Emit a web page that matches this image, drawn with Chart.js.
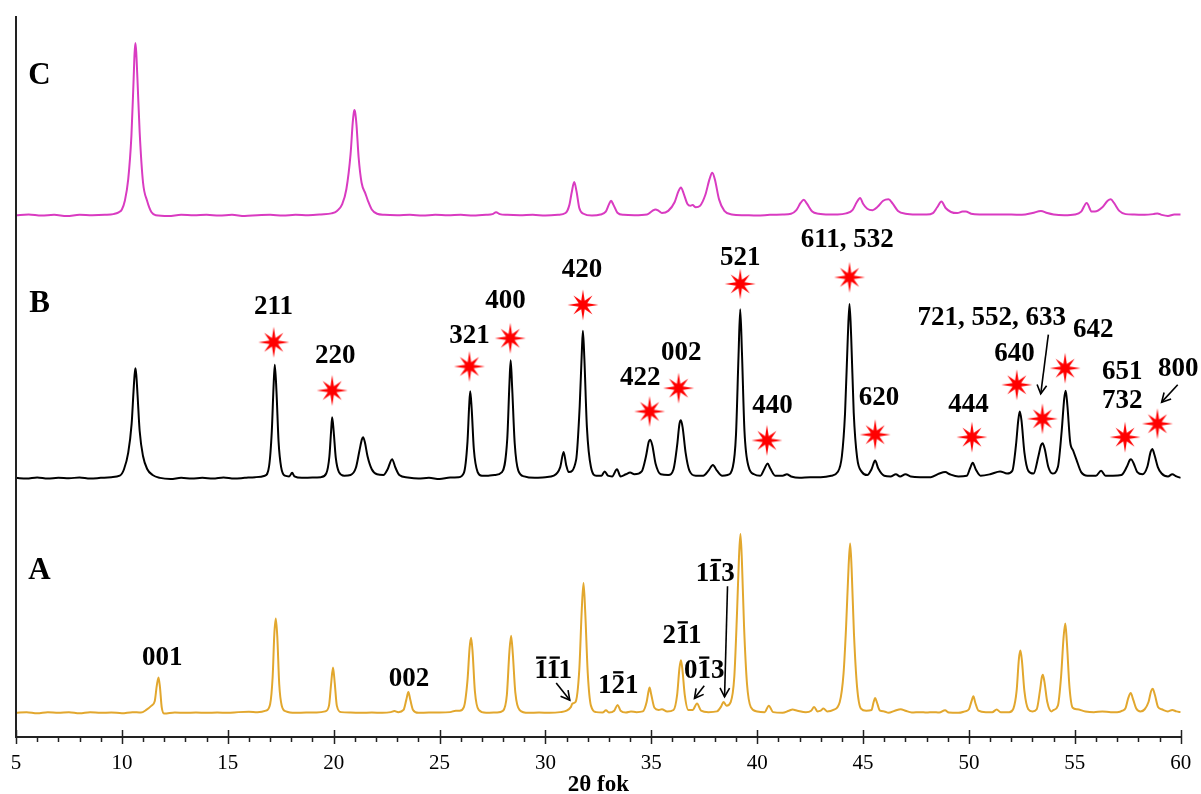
<!DOCTYPE html>
<html><head><meta charset="utf-8">
<script src="https://cdn.jsdelivr.net/npm/chart.js@4.4.1/dist/chart.umd.min.js"></script>
<style>html,body{margin:0;padding:0;background:#fff;}canvas{display:block;}</style>
</head><body>
<canvas id="c" width="1201" height="794"></canvas>
<script>
// x axis: 2-theta (degrees)
const xMin = 5, xMax = 60;
const xTickLabels = [5,10,15,20,25,30,35,40,45,50,55,60];

// vertical offsets of the three stacked patterns (intensity units)
const offsetA = 3.35, offsetB = 35.94, offsetC = 72.37;

// Pattern C (magenta) [2theta, intensity above its baseline]
const patternC = [
[5.0,0.0],[5.6,0.1],[6.2,-0.05],[6.8,0.05],[7.4,-0.1],[8.0,0.05],[8.6,0.0],[9.2,0.05],[9.6,0.15],[9.85,0.4],
[10.0,0.8],[10.14,2.0],[10.3,5.0],[10.45,11.0],[10.55,18.5],[10.6,22.5],[10.64,23.9],[10.68,22.5],[10.74,18.5],[10.84,11.5],[11.0,4.5],[11.19,2.0],
[11.4,0.4],[11.6,0.0],[12.2,-0.1],[12.8,0.05],[13.4,0.0],[14.0,0.05],[14.6,-0.05],[15.2,0.05],[15.8,-0.1],[16.4,0.0],
[17.0,0.05],[17.6,-0.05],[18.2,0.05],[18.8,0.0],[19.4,0.1],[19.9,0.25],[20.16,0.6],[20.4,1.5],[20.6,3.6],[20.8,8.5],
[20.9,12.8],[20.95,14.2],[20.98,14.6],[21.02,14.2],[21.08,12.5],[21.18,8.0],[21.32,4.5],[21.5,3.0],[21.62,2.0],[21.8,0.8],[22.05,0.2],[22.4,0.05],
[23.0,0.0],[23.6,0.05],[24.2,-0.05],[24.8,0.05],[25.4,0.0],[26.0,0.05],[26.6,-0.05],[27.2,0.05],[27.5,0.15],[27.67,0.4],
[27.85,0.15],[28.2,0.05],[28.8,0.0],[29.4,0.05],[30.0,-0.05],[30.6,0.05],[30.95,0.3],[31.13,1.4],[31.25,3.3],[31.36,4.6],
[31.47,3.3],[31.6,1.0],[31.8,0.2],[32.2,-0.05],[32.6,0.1],[32.85,0.5],[33.0,1.5],[33.1,2.0],[33.22,1.4],[33.4,0.35],
[33.7,0.05],[34.2,0.0],[34.8,0.1],[35.05,0.6],[35.2,0.8],[35.35,0.6],[35.5,0.3],[35.8,0.6],[36.1,1.8],[36.28,3.3],
[36.4,3.85],[36.53,3.0],[36.7,1.6],[36.85,1.3],[36.95,1.4],[37.1,1.1],[37.3,1.3],[37.55,2.8],[37.75,5.0],[37.88,5.9],
[38.0,5.0],[38.2,2.2],[38.45,0.6],[38.8,0.1],[39.4,0.0],[40.0,-0.05],[40.6,0.05],[41.2,0.1],[41.6,0.2],[41.85,0.7],
[42.05,1.7],[42.2,2.15],[42.35,1.6],[42.6,0.5],[42.9,0.2],[43.4,0.1],[43.8,0.1],[44.2,0.25],[44.5,0.7],[44.7,1.8],
[44.86,2.4],[45.0,1.6],[45.2,0.9],[45.45,0.7],[45.7,1.2],[45.95,2.0],[46.2,2.2],[46.4,1.6],[46.65,0.6],[47.0,0.2],
[47.5,0.1],[48.0,0.1],[48.3,0.3],[48.5,1.1],[48.7,1.9],[48.9,1.0],[49.15,0.45],[49.45,0.3],[49.7,0.5],[49.85,0.5],
[50.1,0.2],[50.5,0.1],[51.0,0.1],[51.5,0.1],[52.0,0.1],[52.5,0.05],[53.0,0.3],[53.4,0.6],[53.7,0.3],[54.0,0.1],
[54.5,0.0],[55.0,0.1],[55.3,0.5],[55.56,1.7],[55.8,0.5],[55.95,0.5],[56.3,1.1],[56.55,2.0],[56.7,2.2],[56.85,1.7],
[57.1,0.6],[57.4,0.15],[57.8,0.1],[58.3,0.05],[58.7,0.15],[58.9,0.25],[59.1,0.05],[59.4,-0.1],[59.7,0.1],[60.0,0.1]
];

// Pattern B (black)
const patternB = [
[5.0,0.0],[5.5,-0.1],[6.0,0.05],[6.5,-0.1],[7.0,0.0],[7.5,-0.05],[8.0,0.05],[8.5,-0.1],[9.0,0.0],[9.5,0.1],
[9.9,0.3],[10.1,1.2],[10.3,3.5],[10.46,7.5],[10.55,12.0],[10.6,14.3],[10.64,15.2],[10.68,14.3],[10.74,11.5],[10.84,6.5],[11.0,3.0],[11.2,1.2],
[11.45,0.4],[11.8,0.0],[12.3,-0.15],[12.8,0.0],[13.3,-0.1],[13.8,0.0],[14.3,-0.1],[14.8,0.05],[15.3,-0.1],[15.8,0.0],
[16.3,0.1],[16.75,0.3],[16.95,1.6],[17.08,6.5],[17.16,12.5],[17.22,15.7],[17.3,12.0],[17.4,5.0],[17.52,1.5],[17.7,0.3],
[17.9,0.2],[18.04,0.7],[18.15,0.2],[18.5,0.0],[19.0,0.05],[19.4,0.1],[19.65,0.6],[19.8,3.0],[19.88,6.5],[19.93,8.4],
[20.0,6.5],[20.1,2.8],[20.25,0.8],[20.5,0.3],[20.8,0.4],[21.05,1.4],[21.22,3.8],[21.33,5.3],[21.39,5.65],[21.47,5.0],
[21.6,3.0],[21.8,1.2],[22.05,0.5],[22.35,0.4],[22.55,1.2],[22.76,2.6],[22.92,1.4],[23.1,0.4],[23.5,0.05],[24.0,-0.1],
[24.5,0.0],[25.0,-0.15],[25.5,0.05],[25.9,0.1],[26.15,0.7],[26.32,5.0],[26.4,10.0],[26.45,12.0],[26.52,9.5],[26.62,4.0],
[26.8,0.8],[27.0,0.3],[27.3,0.3],[27.6,0.4],[27.95,0.8],[28.2,5.5],[28.3,13.0],[28.36,16.3],[28.43,12.5],[28.55,4.8],
[28.72,1.0],[29.0,0.2],[29.5,0.0],[30.0,0.1],[30.4,0.3],[30.7,1.5],[30.86,3.6],[30.98,1.8],[31.1,0.8],[31.45,2.5],
[31.62,10.0],[31.72,17.5],[31.77,20.4],[31.84,16.5],[31.96,7.0],[32.15,1.5],[32.4,0.3],[32.65,0.3],[32.8,0.9],[32.95,0.3],
[33.15,0.2],[33.38,1.2],[33.55,0.2],[33.8,0.5],[34.0,0.75],[34.2,0.5],[34.55,0.9],[34.75,3.0],[34.88,5.0],[34.95,5.3],
[35.05,4.5],[35.2,2.0],[35.45,0.5],[35.8,0.4],[36.05,1.2],[36.22,4.5],[36.33,7.5],[36.4,8.0],[36.48,7.0],[36.62,3.5],
[36.8,1.0],[37.1,0.3],[37.45,0.3],[37.7,1.0],[37.91,1.8],[38.1,1.0],[38.35,0.3],[38.6,0.4],[38.85,1.5],[39.0,6.0],
[39.12,17.0],[39.2,23.4],[39.28,17.5],[39.4,6.5],[39.6,1.5],[39.85,0.5],[40.15,0.3],[40.35,1.3],[40.49,2.0],[40.62,1.3],
[40.85,0.3],[41.2,0.3],[41.4,0.5],[41.6,0.2],[42.0,0.0],[42.5,0.1],[43.0,0.1],[43.5,0.3],[43.8,0.8],[44.0,3.0],
[44.15,9.0],[44.28,19.5],[44.36,24.1],[44.44,19.5],[44.56,9.0],[44.72,2.8],[44.95,0.8],[45.2,0.4],[45.4,1.2],[45.57,2.4],
[45.72,1.3],[46.0,0.3],[46.3,0.2],[46.55,0.5],[46.75,0.2],[47.0,0.5],[47.25,0.2],[47.7,0.1],[48.2,0.1],[48.6,0.6],
[48.88,0.8],[49.1,0.5],[49.5,0.2],[49.9,0.3],[50.05,1.3],[50.18,2.1],[50.32,1.2],[50.55,0.3],[51.0,0.5],[51.47,0.9],
[51.8,0.6],[52.05,1.0],[52.22,4.5],[52.33,8.0],[52.4,9.2],[52.48,8.0],[52.62,3.5],[52.8,1.0],[53.05,0.6],[53.28,3.0],
[53.4,4.5],[53.48,4.8],[53.58,4.0],[53.75,1.5],[53.95,0.6],[54.2,1.5],[54.38,6.5],[54.5,11.0],[54.57,12.1],[54.65,10.0],
[54.78,5.0],[54.92,3.8],[55.08,2.5],[55.3,0.8],[55.6,0.3],[56.0,0.3],[56.24,1.0],[56.45,0.3],[56.8,0.3],[57.2,0.4],
[57.45,1.5],[57.6,2.5],[57.66,2.6],[57.78,2.0],[57.95,0.8],[58.2,0.5],[58.42,1.5],[58.58,3.6],[58.66,4.0],[58.76,3.2],
[58.92,1.5],[59.1,0.6],[59.4,0.2],[59.6,0.5],[59.8,0.2],[60.0,0.0]
];

// Pattern A (gold)
const patternA = [
[5.0,0.0],[5.5,0.1],[6.0,-0.05],[6.5,0.1],[7.0,0.0],[7.5,0.1],[8.0,-0.05],[8.5,0.1],[9.0,0.0],[9.5,0.05],
[10.0,-0.05],[10.5,0.1],[10.9,0.05],[11.15,0.4],[11.4,1.0],[11.55,1.6],[11.65,3.8],[11.73,4.9],[11.8,3.5],[11.88,0.8],
[12.0,-0.1],[12.5,0.05],[13.0,0.0],[13.5,0.05],[14.0,0.0],[14.5,0.05],[15.0,0.0],[15.5,0.1],[16.0,0.15],[16.4,0.1],
[16.8,0.3],[17.0,1.2],[17.12,5.0],[17.2,11.0],[17.27,13.1],[17.34,10.5],[17.43,4.0],[17.55,1.0],[17.75,0.2],[18.2,0.0],
[18.7,0.05],[19.2,0.05],[19.6,0.2],[19.78,1.0],[19.88,4.0],[19.97,6.3],[20.05,4.2],[20.15,1.0],[20.35,0.1],[20.8,0.05],
[21.3,0.0],[21.8,0.05],[22.3,0.0],[22.7,0.1],[22.87,0.25],[23.05,0.1],[23.3,0.4],[23.43,1.8],[23.53,2.9],[23.62,1.8],
[23.75,0.4],[24.0,0.0],[24.5,0.05],[25.0,0.05],[25.5,0.1],[25.77,0.3],[25.95,0.3],[26.15,0.8],[26.32,4.5],[26.42,9.0],
[26.49,10.4],[26.56,8.5],[26.67,3.0],[26.85,0.4],[27.2,0.0],[27.7,0.05],[28.0,0.3],[28.18,2.5],[28.3,8.5],[28.38,10.7],
[28.46,8.2],[28.58,2.8],[28.78,0.4],[29.2,0.0],[29.7,0.05],[30.2,0.0],[30.7,0.1],[31.0,0.3],[31.2,0.8],[31.28,1.3],
[31.42,1.5],[31.6,6.0],[31.72,14.5],[31.8,18.0],[31.88,14.0],[32.0,5.5],[32.15,1.0],[32.4,0.1],[32.7,0.05],[32.86,0.35],
[33.0,0.05],[33.25,0.3],[33.41,1.1],[33.55,0.3],[33.8,0.05],[34.04,0.2],[34.3,0.1],[34.6,0.2],[34.78,1.5],[34.87,3.0],
[34.92,3.5],[35.0,2.5],[35.15,0.7],[35.35,0.4],[35.5,0.5],[35.75,0.2],[36.05,0.4],[36.22,2.5],[36.33,6.2],[36.4,7.3],
[36.47,6.0],[36.58,2.5],[36.75,0.4],[36.95,0.4],[37.16,1.3],[37.35,0.3],[37.7,0.1],[38.1,0.2],[38.3,0.9],[38.41,1.5],
[38.55,1.0],[38.75,1.5],[38.92,5.0],[39.05,14.0],[39.14,21.5],[39.21,24.8],[39.28,21.0],[39.38,12.0],[39.52,4.0],[39.7,0.8],
[40.0,0.2],[40.35,0.1],[40.55,1.0],[40.75,0.1],[41.2,0.0],[41.5,0.3],[41.67,0.45],[41.9,0.3],[42.3,0.1],[42.55,0.3],
[42.69,0.8],[42.85,0.2],[43.0,0.3],[43.13,0.6],[43.3,0.2],[43.6,0.4],[43.9,1.5],[44.08,5.5],[44.2,12.0],[44.32,20.5],
[44.39,23.5],[44.46,20.0],[44.57,11.0],[44.72,3.5],[44.9,0.6],[45.15,0.3],[45.4,0.4],[45.5,1.5],[45.57,2.05],[45.65,1.5],
[45.8,0.3],[46.0,0.2],[46.2,0.0],[46.5,0.3],[46.78,0.5],[47.0,0.3],[47.3,0.05],[47.7,0.1],[48.0,0.05],[48.3,0.1],
[48.6,0.05],[48.87,0.35],[49.05,0.05],[49.5,0.0],[49.8,0.2],[50.0,0.5],[50.12,1.6],[50.21,2.3],[50.3,1.4],[50.45,0.3],
[50.8,0.1],[51.1,0.1],[51.31,0.45],[51.5,0.1],[51.9,0.1],[52.1,0.6],[52.25,3.0],[52.36,7.5],[52.43,8.65],[52.5,7.3],
[52.62,3.0],[52.8,0.5],[53.0,0.2],[53.2,0.5],[53.35,3.0],[53.44,4.9],[53.49,5.3],[53.56,4.4],[53.7,1.5],[53.9,0.2],
[54.0,0.4],[54.2,1.0],[54.35,5.0],[54.47,10.5],[54.55,12.4],[54.62,10.0],[54.75,3.5],[54.9,0.7],[55.1,0.5],[55.5,0.2],
[55.9,0.1],[56.3,0.2],[56.7,0.1],[57.0,0.1],[57.25,0.3],[57.4,0.7],[57.52,2.0],[57.64,2.75],[57.76,1.8],[57.9,0.6],
[58.1,0.2],[58.3,0.5],[58.48,1.5],[58.6,3.0],[58.68,3.35],[58.78,2.5],[58.93,0.8],[59.1,0.5],[59.4,0.2],[59.6,0.4],
[59.8,0.2],[60.0,0.1]
];

// red star markers (2theta, height on the same intensity axis)
const starX = [17.17,19.93,26.41,28.34,31.77,34.92,36.29,39.2,40.46,44.36,45.57,50.14,52.26,53.47,54.54,57.37,58.9];
const starY = [54.75,48.06,51.39,55.3,59.93,45.15,48.38,62.84,41.14,63.75,41.93,41.59,48.85,44.14,51.15,41.59,43.45];

// reflection labels: text, 2theta, height, indices of characters with an overbar
const hklText = ['211','220','321','400','420','422','002','521','440','611, 532','620','444','640','721, 552, 633','642','651','732','800',
                 '001','002','111','121','211','013','113'];
const hklX = [17.16,20.08,26.41,28.11,31.73,34.48,36.41,39.2,40.72,44.25,45.75,49.98,52.15,51.08,55.87,57.24,57.24,59.89,
              11.91,23.56,30.37,33.44,36.45,37.5,38.02];
const hklY = [59.6,52.9,55.68,60.53,64.82,49.76,53.23,66.48,45.84,68.98,46.99,45.98,53.14,58.07,56.51,50.6,46.54,51.07,
              10.98,8.03,9.14,7.1,14.03,9.14,22.67];
const hklBars = [[],[],[],[],[],[],[],[],[],[],[],[],[],[],[],[],[],[],
                 [],[],[0,1],[1],[1],[1],[1]];

// arrows: from (x1,y1) to (x2,y2)
const arrowX1 = [30.51,37.5,38.6,53.75,59.86];
const arrowY1 = [7.48,7.1,20.9,55.82,48.85];
const arrowX2 = [31.15,37.04,38.46,53.39,59.1];
const arrowY2 = [5.12,5.36,5.58,47.6,46.44];

// pattern names
const patternNames = ['C','B','A'];
const patternNameX = [6.11,6.11,6.11];
const patternNameY = [91.69,60.11,22.99];

const colorA = '#e2a72e', colorB = '#000000', colorC = '#d93bc1';
const SERIF = '"Liberation Serif", "DejaVu Serif", serif';

// star marker image (8-pointed)
function makeStar(){
  const s = 36, c = document.createElement('canvas');
  c.width = s; c.height = s;
  const g = c.getContext('2d');
  g.translate(s/2, s/2);
  g.beginPath();
  const n = 8;
  for (let k = 0; k < n; k++){
    const a = -Math.PI/2 + k*2*Math.PI/n;
    const r = (k%2===0) ? 15.5 : 13.5;
    const ai = a + Math.PI/n;
    const px = r*Math.cos(a), py = r*Math.sin(a);
    if (k===0) g.moveTo(px,py); else g.lineTo(px,py);
    g.lineTo(4.6*Math.cos(ai), 4.6*Math.sin(ai));
  }
  g.closePath();
  g.fillStyle = '#ff0000';
  g.fill();
  return c;
}
const starImg = makeStar();

function toXY(arr, off){ return arr.map(p => ({x: p[0], y: p[1] + off})); }

const annot = {
  id: 'annot',
  afterDatasetsDraw(chart){
    const ctx = chart.ctx, xs = chart.scales.x, ys = chart.scales.y, ca = chart.chartArea;
    ctx.save();
    // left axis line
    ctx.strokeStyle = '#222'; ctx.lineWidth = 2;
    ctx.beginPath(); ctx.moveTo(ca.left, ca.top); ctx.lineTo(ca.left, ca.bottom); ctx.stroke();
    // tick marks
    ctx.lineWidth = 1.5;
    xs.ticks.forEach(t => {
      const px = Math.round(xs.getPixelForValue(t.value)) + 0.5;
      const major = xTickLabels.includes(t.value);
      ctx.beginPath();
      ctx.moveTo(px, ca.bottom - (major ? 7 : 0));
      ctx.lineTo(px, ca.bottom + (major ? 7 : 5));
      ctx.stroke();
    });
    // pattern names
    ctx.fillStyle = '#000';
    ctx.textAlign = 'center'; ctx.textBaseline = 'middle';
    ctx.font = 'bold 31px ' + SERIF;
    patternNames.forEach((n,i) => ctx.fillText(n, xs.getPixelForValue(patternNameX[i]), ys.getPixelForValue(patternNameY[i])));
    // hkl labels
    const fs = 27;
    ctx.font = 'bold ' + fs + 'px ' + SERIF;
    hklText.forEach((t,i) => {
      const cx = xs.getPixelForValue(hklX[i]), cy = ys.getPixelForValue(hklY[i]);
      ctx.textAlign = 'center';
      ctx.fillText(t, cx, cy);
      if (hklBars[i].length){
        const w = ctx.measureText(t).width, left = cx - w/2;
        ctx.lineWidth = 2.3; ctx.strokeStyle = '#000';
        hklBars[i].forEach(k => {
          const x0 = left + ctx.measureText(t.slice(0,k)).width;
          const cw = ctx.measureText(t[k]).width;
          const by = cy - 0.5*fs;
          ctx.beginPath(); ctx.moveTo(x0 + cw*0.12, by); ctx.lineTo(x0 + cw*0.88, by); ctx.stroke();
        });
      }
    });
    // arrows
    ctx.strokeStyle = '#000'; ctx.lineWidth = 1.6;
    arrowX1.forEach((_,i) => {
      const x1 = xs.getPixelForValue(arrowX1[i]), y1 = ys.getPixelForValue(arrowY1[i]);
      const x2 = xs.getPixelForValue(arrowX2[i]), y2 = ys.getPixelForValue(arrowY2[i]);
      const a = Math.atan2(y2-y1, x2-x1), L = 10, h = 0.5;
      ctx.beginPath(); ctx.moveTo(x1,y1); ctx.lineTo(x2,y2); ctx.stroke();
      ctx.beginPath();
      ctx.moveTo(x2 - L*Math.cos(a-h), y2 - L*Math.sin(a-h));
      ctx.lineTo(x2, y2);
      ctx.lineTo(x2 - L*Math.cos(a+h), y2 - L*Math.sin(a+h));
      ctx.stroke();
    });
    ctx.restore();
  }
};

new Chart(document.getElementById('c'), {
  type: 'line',
  data: {
    datasets: [
      {label:'C', data: toXY(patternC, offsetC), borderColor: colorC, borderWidth: 2, pointRadius: 0, cubicInterpolationMode: 'monotone', fill: false},
      {label:'B', data: toXY(patternB, offsetB), borderColor: colorB, borderWidth: 2, pointRadius: 0, cubicInterpolationMode: 'monotone', fill: false},
      {label:'A', data: toXY(patternA, offsetA), borderColor: colorA, borderWidth: 2, pointRadius: 0, cubicInterpolationMode: 'monotone', fill: false},
      {label:'stars', data: starX.map((x,i) => ({x, y: starY[i]})), showLine: false, pointStyle: starImg, pointRadius: 16, borderWidth: 0}
    ]
  },
  options: {
    responsive: false, animation: false, events: [],
    layout: {padding: {left: 15.5, right: 20.3, top: 15, bottom: 0}},
    plugins: {legend: {display: false}, tooltip: {enabled: false}},
    scales: {
      x: {
        type: 'linear', min: xMin, max: xMax,
        grid: {display: false, drawTicks: false},
        border: {display: true, color: '#222', width: 2},
        ticks: {stepSize: 1, autoSkip: false, maxRotation: 0, padding: 0, color: '#000',
                font: {family: SERIF, size: 21, lineHeight: 52/21},
                callback: v => xTickLabels.includes(v) ? String(v) : ''},
        title: {display: true, text: '2θ fok', color: '#000', padding: {top: -14.5, bottom: -1.5},
                font: {family: SERIF, size: 23, weight: 'bold', lineHeight: 21/23}}
      },
      y: {display: false, min: 0, max: 100}
    }
  },
  plugins: [annot]
});
</script>
</body></html>
